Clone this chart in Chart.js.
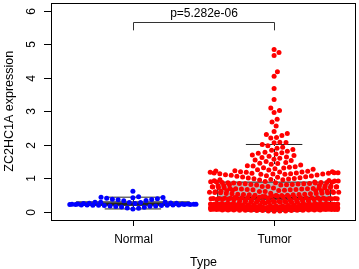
<!DOCTYPE html>
<html><head><meta charset="utf-8">
<script src="https://cdn.jsdelivr.net/npm/chart.js@4.4.0/dist/chart.umd.min.js"></script>
<style>html,body{margin:0;padding:0;background:#fff}#wrap{width:359px;height:269px;position:relative}</style>
</head><body><div id="wrap"><canvas id="c" width="359" height="269"></canvas></div>
<script>
// ---------------- data ----------------
const categories = ["Normal", "Tumor"];
const yTicks = [0, 1, 2, 3, 4, 5, 6];
const xTitle = "Type";
const yTitle = "ZC2HC1A expression";
const pValueLabel = "p=5.282e-06";

const normalValues = [0.62, 0.45, 0.44, 0.43, 0.42, 0.41, 0.39, 0.38, 0.37, 0.36, 0.34, 0.33,
  0.30, 0.29, 0.29, 0.28, 0.28, 0.27, 0.26, 0.26, 0.25, 0.25, 0.24, 0.24, 0.24, 0.23, 0.23, 0.23,
  0.22, 0.22, 0.22, 0.22, 0.21, 0.21, 0.21, 0.21, 0.20, 0.20, 0.20, 0.19, 0.19, 0.18, 0.18, 0.17,
  0.16, 0.15, 0.14, 0.12, 0.11, 0.09];

const tumorLow = [0.02, 0.03, 0.03, 0.04, 0.04, 0.04, 0.05, 0.05, 0.05, 0.05,
  0.06, 0.06, 0.06, 0.06, 0.06, 0.07, 0.07, 0.07, 0.07, 0.07,
  0.07, 0.08, 0.08, 0.08, 0.08, 0.08, 0.08, 0.08, 0.09, 0.09,
  0.09, 0.09, 0.09, 0.09, 0.09, 0.09, 0.10, 0.10, 0.10, 0.10,
  0.10, 0.10, 0.10, 0.10, 0.10, 0.11, 0.11, 0.11, 0.11, 0.11,
  0.11, 0.11, 0.11, 0.11, 0.12, 0.12, 0.12, 0.12, 0.12, 0.12,
  0.12, 0.12, 0.12, 0.12, 0.13, 0.13, 0.13, 0.13, 0.13, 0.13,
  0.13, 0.13, 0.13, 0.13, 0.13, 0.14, 0.14, 0.14, 0.14, 0.14,
  0.14, 0.14, 0.14, 0.14, 0.14, 0.14, 0.14, 0.14, 0.14, 0.14,
  0.14, 0.14, 0.14, 0.03, 0.05, 0.06, 0.08, 0.09, 0.10, 0.11,
  0.12, 0.13, 0.13, 0.14];

const tumorMid = [0.15, 0.15, 0.15, 0.15, 0.16, 0.16, 0.16, 0.16, 0.17, 0.17,
  0.17, 0.17, 0.18, 0.18, 0.18, 0.18, 0.19, 0.19, 0.19, 0.19,
  0.20, 0.20, 0.20, 0.20, 0.21, 0.21, 0.21, 0.22, 0.22, 0.22,
  0.23, 0.23, 0.23, 0.24, 0.24, 0.24, 0.25, 0.25, 0.25, 0.26,
  0.26, 0.26, 0.27, 0.27, 0.27, 0.28, 0.28, 0.28, 0.29, 0.29,
  0.29, 0.30, 0.30, 0.30, 0.31, 0.31, 0.31, 0.32, 0.32, 0.32,
  0.33, 0.33, 0.33, 0.34, 0.34, 0.34, 0.35, 0.35, 0.35, 0.36,
  0.36, 0.36, 0.37, 0.37, 0.37, 0.38, 0.38, 0.38, 0.39, 0.39,
  0.39, 0.40, 0.40, 0.40, 0.41, 0.41, 0.41, 0.42, 0.42, 0.42,
  0.43, 0.43, 0.43, 0.15, 0.17, 0.19, 0.20, 0.22, 0.23, 0.25,
  0.26, 0.28, 0.29, 0.31, 0.32, 0.34, 0.35, 0.37, 0.38, 0.40,
  0.41, 0.42, 0.43, 0.43];

const tumorHigh = [0.44, 0.44, 0.45, 0.45, 0.46, 0.47, 0.47, 0.48, 0.48, 0.49,
  0.50, 0.50, 0.51, 0.51, 0.52, 0.53, 0.53, 0.54, 0.54, 0.55,
  0.55, 0.56, 0.57, 0.57, 0.58, 0.58, 0.59, 0.59, 0.60, 0.61,
  0.61, 0.62, 0.62, 0.63, 0.63, 0.64, 0.65, 0.65, 0.66, 0.66,
  0.67, 0.67, 0.68, 0.69, 0.69, 0.70, 0.70, 0.71, 0.72, 0.72,
  0.73, 0.73, 0.74, 0.75, 0.75, 0.76, 0.76, 0.77, 0.78, 0.78,
  0.79, 0.79, 0.80, 0.81, 0.81, 0.82, 0.82, 0.83, 0.84, 0.84,
  0.85, 0.85, 0.86, 0.86, 0.87, 0.87, 0.88, 0.88, 0.88, 0.89,
  0.89, 0.89, 0.80, 0.74, 0.68, 0.63, 0.56, 0.52, 0.49, 0.46,
  0.60, 0.71];

const tumorUpper = [0.90, 0.91, 0.92, 0.92, 0.93, 0.94, 0.95, 0.96, 0.96, 0.97,
  0.98, 0.99, 1.00, 1.01, 1.02, 1.03, 1.04, 1.05, 1.06, 1.07,
  1.08, 1.09, 1.10, 1.11, 1.12, 1.13, 1.14, 1.14, 1.15, 1.16,
  1.16, 1.17, 1.18, 1.18, 1.19, 1.21, 1.23, 1.25, 1.27, 1.29,
  1.31, 1.33, 1.35, 1.38, 1.40, 1.42, 1.45, 1.47, 1.50, 1.53,
  1.55, 1.57, 1.60, 1.62, 1.64, 1.66, 1.68, 1.70, 1.73, 1.75,
  1.76, 1.78, 1.81, 1.84, 1.86, 1.90, 1.93, 1.97, 2.01,
  1.12, 1.13, 1.15, 1.17, 1.19, 1.20, 1.20, 1.22, 1.26, 1.32, 1.37, 1.44];

const tumorOutliers = [4.84, 4.75, 4.66, 4.18, 4.04, 3.68, 3.35, 3.10, 3.02, 2.96, 2.76,
  2.68, 2.56, 2.40, 2.34, 2.31, 2.28, 2.22, 2.20, 2.08, 2.07, 2.06];

const tumorValues = [].concat(tumorLow, tumorMid, tumorHigh, tumorUpper, tumorOutliers);
const groupValues = [normalValues, tumorValues];

// ---------------- styling ----------------
const FONT = '"Liberation Sans", Arial, Helvetica, sans-serif';
const pointColors = ['#0000FF', '#FF0000'];
const BOX_HALF = 0.4, STAPLE_HALF = 0.2;
const SWARM_PX = 5.76;

function fivenum(a) {
  const x = [...a].sort((p, q) => p - q), n = x.length;
  const n4 = Math.floor((n + 3) / 2) / 2;
  const d = [1, n4, (n + 1) / 2, n + 1 - n4, n];
  return d.map(v => 0.5 * (x[Math.floor(v) - 1] + x[Math.ceil(v) - 1]));
}
function boxStats(a) {
  const f = fivenum(a), iqr = f[3] - f[1];
  const lo = Math.min(...a.filter(v => v >= f[1] - 1.5 * iqr));
  const hi = Math.max(...a.filter(v => v <= f[3] + 1.5 * iqr));
  return { lo, q1: f[1], med: f[2], q3: f[3], hi };
}
const stats = groupValues.map(boxStats);

function swarmOffsets(values, xs, ys) {
  const s = SWARM_PX;
  const corralPx = xs.getPixelForValue(2) - xs.getPixelForValue(1) - 2 * s;
  const order = values.map((v, i) => i).sort((a, b) => values[a] - values[b]);
  const placed = [], out = new Array(values.length);
  for (const i of order) {
    const y = ys.getPixelForValue(values[i]);
    const near = placed.filter(p => Math.abs(p.y - y) < s);
    const cands = [0];
    for (const p of near) {
      const dx = Math.sqrt(s * s - (p.y - y) * (p.y - y));
      cands.push(p.x + dx, p.x - dx);
    }
    cands.sort((a, b) => Math.abs(a) - Math.abs(b));
    let chosen = cands[0];
    for (const c of cands) {
      if (near.every(p => (p.x - c) * (p.x - c) + (p.y - y) * (p.y - y) >= s * s - 1e-6)) { chosen = c; break; }
    }
    placed.push({ x: chosen, y });
    out[i] = ((chosen + corralPx / 2) % corralPx + corralPx) % corralPx - corralPx / 2;
  }
  return out;
}

function line(ctx, x1, y1, x2, y2) { ctx.beginPath(); ctx.moveTo(x1, y1); ctx.lineTo(x2, y2); ctx.stroke(); }

const rPlot = {
  id: 'rplot',
  beforeDatasetsDraw(chart) {
    const ctx = chart.ctx, xs = chart.scales.x, ys = chart.scales.y;
    ctx.save();
    stats.forEach((st, g) => {
      const c = g + 1;
      const xc = Math.round(xs.getPixelForValue(c)) + 0.5;
      const xl = xs.getPixelForValue(c - BOX_HALF), xr = xs.getPixelForValue(c + BOX_HALF);
      const sl = xs.getPixelForValue(c - STAPLE_HALF), sr = xs.getPixelForValue(c + STAPLE_HALF);
      const pq1 = ys.getPixelForValue(st.q1), pq3 = ys.getPixelForValue(st.q3);
      const pm = ys.getPixelForValue(st.med), plo = ys.getPixelForValue(st.lo), phi = ys.getPixelForValue(st.hi);
      ctx.strokeStyle = '#222'; ctx.lineWidth = 1;
      ctx.setLineDash([3, 3]);
      line(ctx, xc, pq3, xc, phi); line(ctx, xc, pq1, xc, plo);
      ctx.setLineDash([]);
      line(ctx, sl, phi, sr, phi); line(ctx, sl, plo, sr, plo);
      ctx.fillStyle = '#b8b8b8';
      ctx.fillRect(xl, pq3, xr - xl, pq1 - pq3);
      ctx.strokeRect(xl, pq3, xr - xl, pq1 - pq3);
      ctx.lineWidth = 3; line(ctx, xl, pm, xr, pm);
    });
    ctx.restore();
  },
  afterDraw(chart) {
    const ctx = chart.ctx, xs = chart.scales.x, ys = chart.scales.y, a = chart.chartArea;
    ctx.save();
    ctx.strokeStyle = '#000'; ctx.lineWidth = 1; ctx.fillStyle = '#000';
    ctx.strokeRect(Math.round(a.left) + 0.5, Math.round(a.top) + 0.5, Math.round(a.right - a.left) - 1, Math.round(a.bottom - a.top) - 1);
    ctx.font = '12px ' + FONT;
    ctx.textAlign = 'center'; ctx.textBaseline = 'middle';
    yTicks.forEach(t => {
      const y = Math.round(ys.getPixelForValue(t)) + 0.5;
      line(ctx, a.left - 7, y, a.left, y);
      ctx.save(); ctx.translate(a.left - 19, y); ctx.rotate(-Math.PI / 2);
      ctx.fillText(String(t), 0, 0); ctx.restore();
    });
    ctx.textBaseline = 'alphabetic';
    categories.forEach((cat, i) => {
      const x = Math.round(xs.getPixelForValue(i + 1)) + 0.5;
      line(ctx, x, a.bottom, x, a.bottom + 6);
      ctx.fillText(cat, x, a.bottom + 23);
    });
    ctx.font = '12.5px ' + FONT;
    ctx.fillText(xTitle, (a.left + a.right) / 2, 266);
    ctx.save(); ctx.translate(13, (a.top + a.bottom) / 2); ctx.rotate(-Math.PI / 2);
    ctx.fillText(yTitle, 0, 0); ctx.restore();
    const bx1 = Math.round(xs.getPixelForValue(1)) + 0.5, bx2 = Math.round(xs.getPixelForValue(2)) + 0.5;
    const by = Math.round(ys.getPixelForValue(5.65)) + 0.5, bt = ys.getPixelForValue(5.41);
    ctx.strokeStyle = '#333';
    ctx.beginPath(); ctx.moveTo(bx1, bt); ctx.lineTo(bx1, by); ctx.lineTo(bx2, by); ctx.lineTo(bx2, bt); ctx.stroke();
    ctx.font = '12px ' + FONT;
    ctx.fillText(pValueLabel, (bx1 + bx2) / 2, ys.getPixelForValue(5.82));
    ctx.restore();
  }
};

const chart = new Chart(document.getElementById('c'), {
  type: 'scatter',
  data: { datasets: groupValues.map((vals, g) => ({
    label: categories[g], data: [],
    backgroundColor: pointColors[g], borderWidth: 0,
    pointRadius: 2.5, pointHoverRadius: 2.5
  })) },
  options: {
    responsive: false, animation: false, devicePixelRatio: 1, events: [],
    layout: { padding: { left: 51, right: 3, top: 2, bottom: 49 } },
    plugins: { legend: { display: false }, tooltip: { enabled: false } },
    scales: {
      x: { type: 'linear', min: 0.42, max: 2.58, display: false },
      y: { type: 'linear', min: -0.24, max: 6.24, display: false }
    }
  },
  plugins: [rPlot]
});

groupValues.forEach((vals, g) => {
  const xs = chart.scales.x, ys = chart.scales.y;
  const offs = swarmOffsets(vals, xs, ys);
  const cpx = xs.getPixelForValue(g + 1);
  chart.data.datasets[g].data = vals.map((v, i) => ({ x: xs.getValueForPixel(cpx + offs[i]), y: v }));
});
chart.update();
</script>
</body></html>
